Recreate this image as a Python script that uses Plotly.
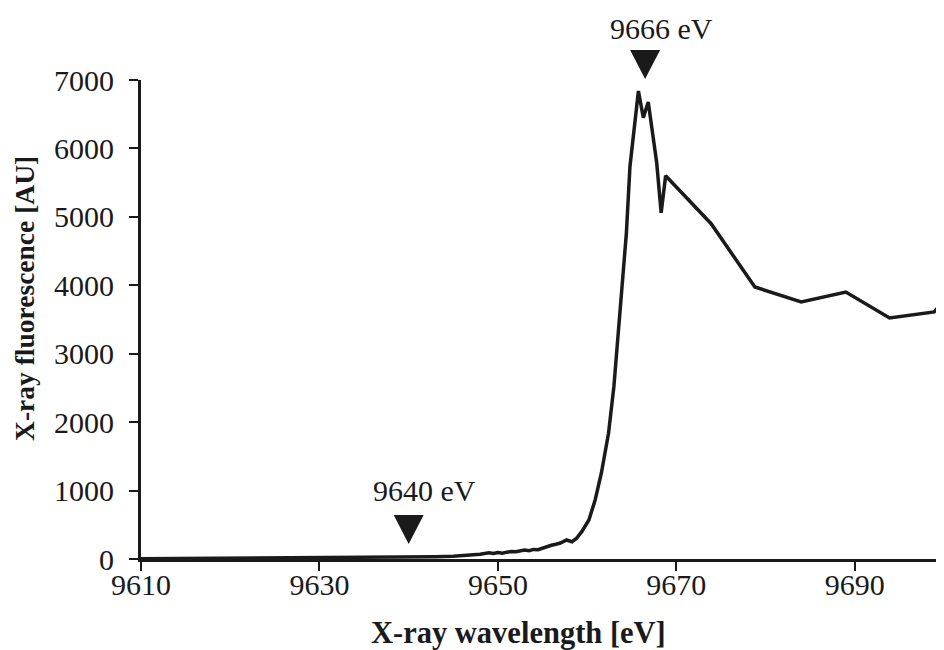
import plotly.graph_objects as go

# ---- data ----
energy_eV = [9610, 9615, 9620, 9625, 9630, 9635, 9640, 9643, 9645, 9647, 9648,
             9649, 9649.5, 9650, 9650.5, 9651, 9651.5, 9652, 9652.5, 9653, 9653.5,
             9654, 9654.5, 9655, 9655.5, 9656, 9656.5, 9657, 9657.7, 9658.3, 9658.8,
             9659.4, 9660.2, 9660.9, 9661.6, 9662.4, 9663.0, 9663.5, 9664.1, 9664.4,
             9664.8, 9665.75, 9666.3, 9666.85, 9667.8, 9668.3, 9668.8, 9673.9,
             9678.8, 9684.0, 9689.0, 9693.9, 9698.9, 9703.9]
fluorescence_AU = [5, 8, 12, 16, 20, 24, 28, 33, 40, 55, 70,
                   90, 80, 95, 85, 100, 110, 105, 120, 130, 120,
                   140, 135, 160, 180, 200, 215, 234, 278, 253, 300,
                   400, 570, 862, 1257, 1838, 2518, 3300, 4272, 4760,
                   5733, 6840, 6450, 6680, 5790, 5060, 5600, 4900,
                   3975, 3756, 3902, 3522, 3610, 4400]

x_ticks = [9610, 9630, 9650, 9670, 9690]
y_ticks = [0, 1000, 2000, 3000, 4000, 5000, 6000, 7000]

marker_energy = [9640, 9666.5]
marker_labels = ["9640 eV", "9666 eV"]
marker_top_paper = [0.092, 1.0626]     # top edge of the arrow heads
label_center_paper = [0.144, 1.1065]

x_title = "X-ray wavelength [eV]"
y_title = "X-ray fluorescence [AU]"

FONT = "Liberation Serif, Times New Roman, serif"
INK = "#1a1a1a"

fig = go.Figure()
fig.add_trace(go.Scatter(
    x=energy_eV, y=fluorescence_AU, mode="lines",
    line=dict(color=INK, width=3.5), hoverinfo="skip", showlegend=False,
))

shapes = []
annotations = []
for e, lab, ytop, ylab in zip(marker_energy, marker_labels, marker_top_paper, label_center_paper):
    shapes.append(dict(
        type="path", xref="x", yref="paper",
        xsizemode="pixel", ysizemode="pixel",
        xanchor=e, yanchor=ytop,
        path="M-15,0 L15,0 L0,-29 Z",
        fillcolor=INK, line=dict(width=0),
    ))
    annotations.append(dict(
        x=e, y=ylab, xref="x", yref="paper", text=lab, showarrow=False,
        xshift=16, xanchor="center", yanchor="middle",
        font=dict(family=FONT, size=30, color=INK),
    ))

annotations.append(dict(
    x=0.4695, y=-0.154, xref="paper", yref="paper", text="<b>%s</b>" % x_title,
    showarrow=False, xanchor="center", yanchor="middle",
    font=dict(family=FONT, size=30.5, color=INK),
))
annotations.append(dict(
    x=-0.1445, y=0.545, xref="paper", yref="paper", text="<b>%s</b>" % y_title,
    showarrow=False, xanchor="center", yanchor="middle", textangle=-90,
    font=dict(family=FONT, size=27.5, color=INK),
))

# page body adds an 8px margin, so the figure is 8px smaller on each side
fig.update_layout(
    width=936, height=642,
    margin=dict(l=133, r=0, t=72, b=91),
    paper_bgcolor="white", plot_bgcolor="white",
    font=dict(family=FONT, size=30, color=INK),
    shapes=shapes, annotations=annotations,
    xaxis=dict(
        range=[9610, 9700], tickmode="array", tickvals=x_ticks,
        ticktext=[str(v) for v in x_ticks],
        showgrid=False, zeroline=False, showline=True, linecolor=INK, linewidth=3,
        ticks="outside", ticklen=9, tickwidth=2, tickcolor=INK,
        ticklabelstandoff=-12,
        tickfont=dict(family=FONT, size=30, color=INK),
    ),
    yaxis=dict(
        range=[0, 7000], tickmode="array", tickvals=y_ticks,
        ticktext=[str(v) for v in y_ticks],
        showgrid=False, zeroline=False, showline=True, linecolor=INK, linewidth=3,
        ticks="outside", ticklen=9, tickwidth=2, tickcolor=INK,
        ticklabelstandoff=9,
        tickfont=dict(family=FONT, size=30, color=INK),
    ),
)

fig.write_html("out.html")
